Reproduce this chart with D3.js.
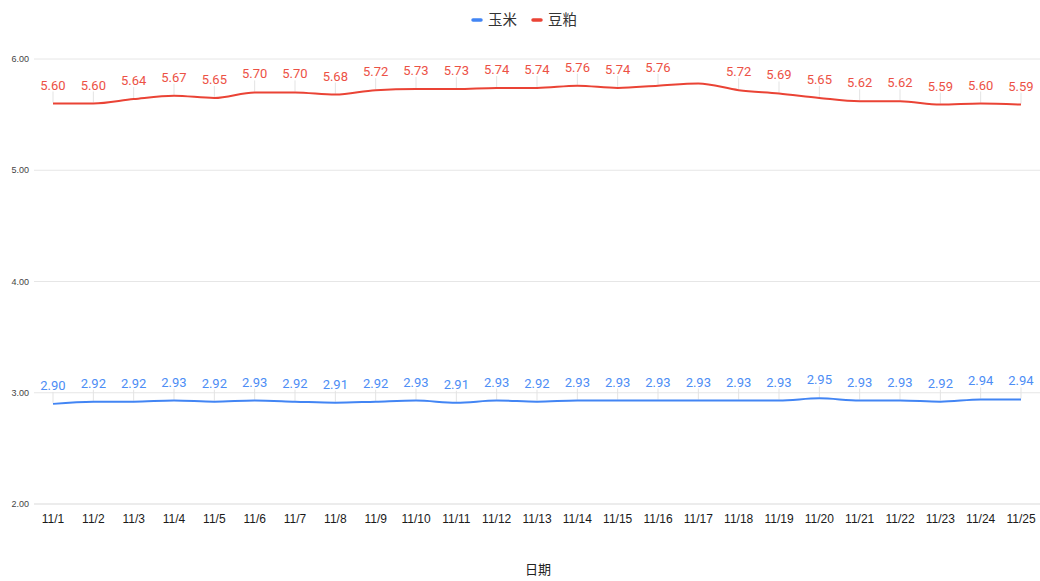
<!DOCTYPE html>
<html>
<head>
  <meta charset="UTF-8">
  <title>玉米 豆粕</title>
  <style>
    body { margin: 0; background: #ffffff; }
    text { font-family: Roboto, "Liberation Sans", "Noto Sans CJK SC", sans-serif; }
  </style>
</head>
<body>
<svg></svg>
<script src="https://d3js.org/d3.v7.min.js"></script>
<script>

// data
let dates = ["11/1","11/2","11/3","11/4","11/5","11/6","11/7","11/8","11/9","11/10","11/11","11/12","11/13",
             "11/14","11/15","11/16","11/17","11/18","11/19","11/20","11/21","11/22","11/23","11/24","11/25"];
let corn = [2.90,2.92,2.92,2.93,2.92,2.93,2.92,2.91,2.92,2.93,2.91,2.93,2.92,
            2.93,2.93,2.93,2.93,2.93,2.93,2.95,2.93,2.93,2.92,2.94,2.94];
let meal = [5.60,5.60,5.64,5.67,5.65,5.70,5.70,5.68,5.72,5.73,5.73,5.74,5.74,
            5.76,5.74,5.76,5.78,5.72,5.69,5.65,5.62,5.62,5.59,5.60,5.59];
let yTicks = [2, 3, 4, 5, 6];
let hiddenLabels = ["11/17"];   // label not shown in original for meal

let series = [
  {name: "玉米", values: corn, color: "#4285F4", label: "#4d8df5"},
  {name: "豆粕", values: meal, color: "#EA4335", label: "#ec5145"}
];

let width = 1040, height = 581;
let svg = d3.select("svg").attr("width", width).attr("height", height);

let x = d3.scalePoint().domain(dates).range([53, 1021]);
let y = d3.scaleLinear().domain([2, 6]).range([504, 59]);

// gridlines + y labels
let grid = svg.append("g");
grid.selectAll("line").data(yTicks).enter().append("line")
    .attr("x1", 34).attr("x2", 1040)
    .attr("y1", d => y(d)).attr("y2", d => y(d))
    .attr("stroke", d => d === 2 ? "#d9d9d9" : "#e6e6e6")
    .attr("stroke-width", 1);
grid.selectAll("text").data(yTicks).enter().append("text")
    .attr("x", 29).attr("y", d => y(d) + 3)
    .attr("text-anchor", "end")
    .attr("font-size", 9)
    .attr("fill", "#444")
    .style("font-family", "'Liberation Sans', Arial, sans-serif")
    .text(d => d.toFixed(2));

// x labels
svg.append("g").selectAll("text").data(dates).enter().append("text")
    .attr("x", d => x(d)).attr("y", 523)
    .attr("text-anchor", "middle")
    .attr("font-size", 12)
    .attr("fill", "#1a1a1a")
    .style("font-family", "'Liberation Sans', Arial, sans-serif")
    .text(d => d);

svg.append("text")
    .attr("x", 538).attr("y", 574)
    .attr("text-anchor", "middle")
    .attr("font-size", 13)
    .attr("fill", "#222")
    .style("font-family", "'Noto Sans CJK SC', sans-serif")
    .text("日期");

let line = d3.line()
    .x((d, i) => x(dates[i]))
    .y(d => y(d))
    .curve(d3.curveMonotoneX);

series.forEach(s => {
  let g = svg.append("g");
  let pts = s.values.map((v, i) => ({v: v, d: dates[i]}))
      .filter(p => !(s.name === "豆粕" && hiddenLabels.includes(p.d)));

  // leader lines
  g.selectAll("line").data(pts).enter().append("line")
      .attr("x1", p => x(p.d)).attr("x2", p => x(p.d))
      .attr("y1", p => y(p.v) - 12).attr("y2", p => y(p.v) - 1)
      .attr("stroke", "#e3e3e3").attr("stroke-width", 1);

  g.append("path")
      .attr("d", line(s.values))
      .attr("fill", "none")
      .attr("stroke", s.color)
      .attr("stroke-width", 2);

  g.selectAll("text").data(pts).enter().append("text")
      .attr("x", p => x(p.d)).attr("y", p => y(p.v) - 14)
      .attr("text-anchor", "middle")
      .attr("font-size", 13)
      .attr("fill", s.label)
      .text(p => p.v.toFixed(2));
});

// legend
let legend = svg.append("g");
let lx = [472, 532];
series.forEach((s, i) => {
  legend.append("line")
      .attr("x1", lx[i] + 1).attr("x2", lx[i] + 9)
      .attr("y1", 20).attr("y2", 20)
      .attr("stroke", s.color).attr("stroke-width", 3.5)
      .attr("stroke-linecap", "round");
  legend.append("text")
      .attr("x", lx[i] + 16).attr("y", 25)
      .attr("font-size", 14.5)
      .attr("fill", "#333")
      .style("font-family", "'Noto Sans CJK SC', sans-serif")
      .text(s.name);
});

</script>
</body>
</html>
